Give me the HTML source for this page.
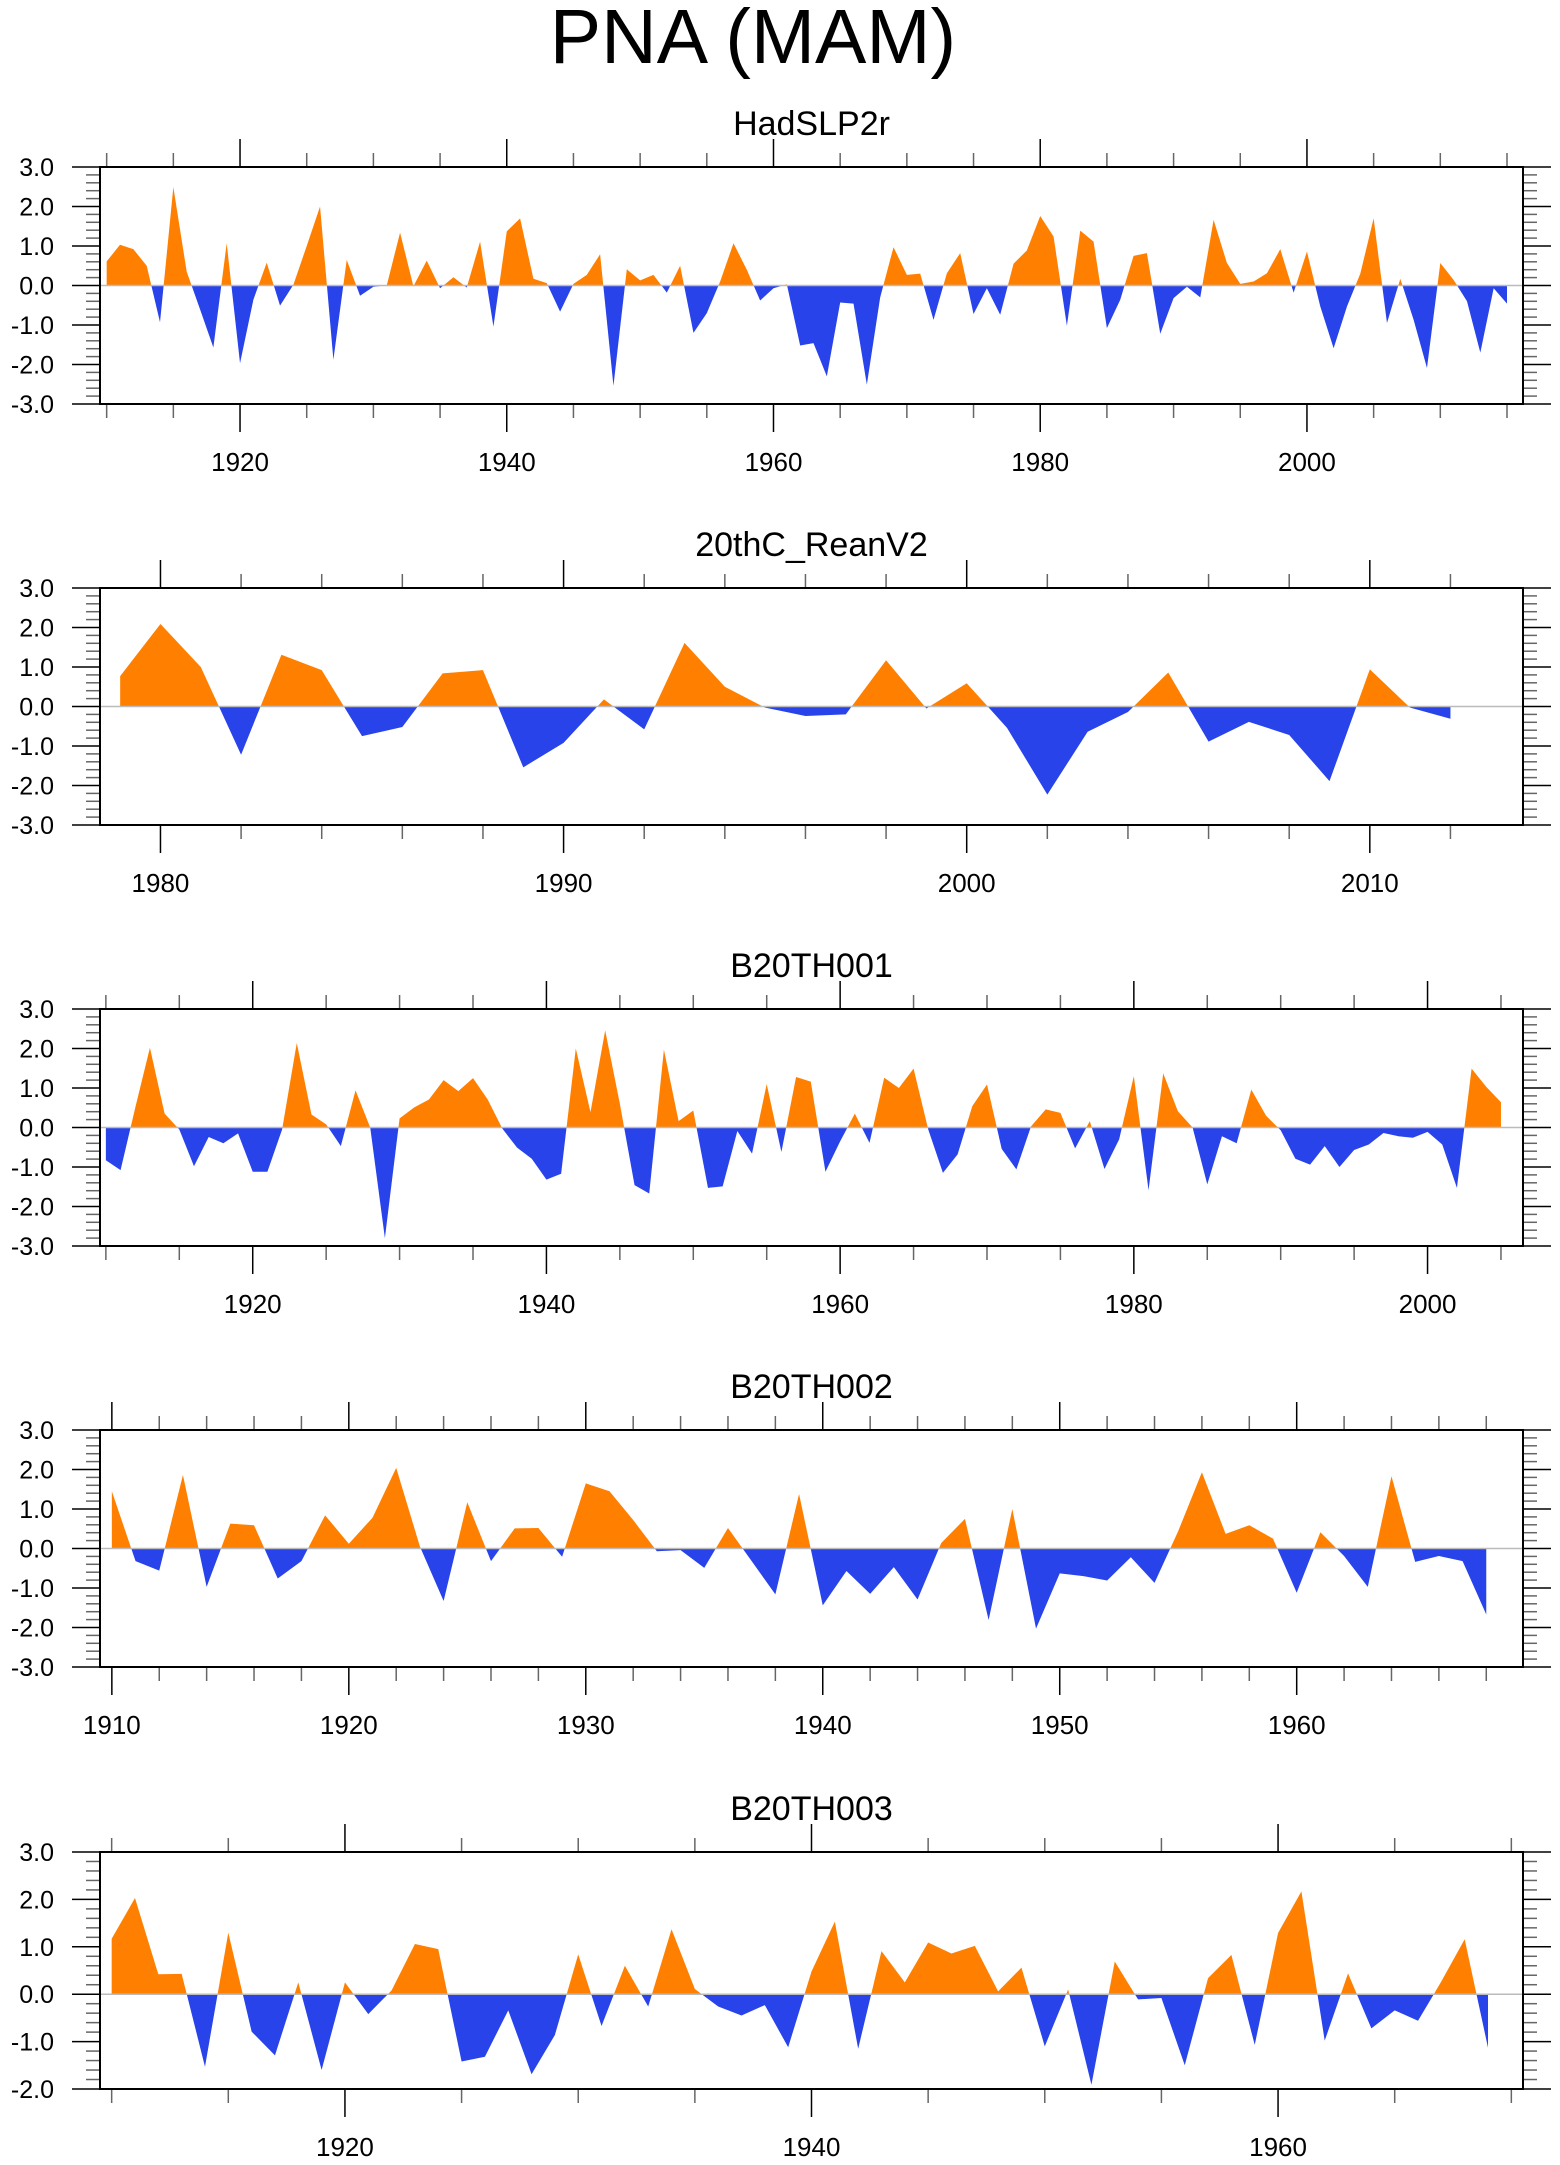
<!DOCTYPE html>
<html><head><meta charset="utf-8">
<style>
html,body{margin:0;padding:0;background:#fff;}
svg{display:block;font-family:"Liberation Sans",Arial,sans-serif;}
</style></head>
<body>
<svg id="chart" width="1560" height="2165" viewBox="0 0 1560 2165" xmlns="http://www.w3.org/2000/svg">
<text x="753" y="63" font-size="77" text-anchor="middle">PNA (MAM)</text>
</svg>
<script>
// ---- Data ----
const hadYears0 = 1910;
const hadValues = [0.61,1.03,0.92,0.5,-0.93,2.49,0.35,-0.6,-1.57,1.07,-1.97,-0.36,0.58,-0.51,0.02,1.0,2.0,-1.88,0.65,-0.26,-0.03,0.0,1.34,-0.02,0.63,-0.07,0.21,-0.05,1.11,-1.04,1.37,1.7,0.17,0.06,-0.66,0.04,0.27,0.79,-2.54,0.41,0.13,0.27,-0.18,0.5,-1.2,-0.7,0.1,1.07,0.4,-0.38,-0.07,0.03,-1.52,-1.46,-2.3,-0.43,-0.46,-2.51,-0.3,0.97,0.27,0.3,-0.87,0.31,0.82,-0.72,-0.07,-0.74,0.55,0.89,1.76,1.24,-1.02,1.39,1.11,-1.08,-0.36,0.75,0.82,-1.22,-0.32,-0.03,-0.3,1.66,0.57,0.04,0.1,0.31,0.92,-0.18,0.86,-0.53,-1.59,-0.53,0.3,1.7,-0.95,0.17,-0.87,-2.09,0.57,0.14,-0.4,-1.7,-0.07,-0.46];
const reanYears0 = 1979;
const reanValues = [0.77,2.09,1.0,-1.22,1.31,0.92,-0.75,-0.52,0.84,0.92,-1.54,-0.92,0.18,-0.58,1.61,0.5,-0.03,-0.24,-0.2,1.17,-0.05,0.59,-0.54,-2.23,-0.64,-0.14,0.86,-0.89,-0.39,-0.72,-1.89,0.94,-0.03,-0.31];
const b001Years0 = 1910;
const b001Values = [-0.83,-1.08,0.5,2.02,0.35,-0.05,-0.98,-0.24,-0.4,-0.15,-1.12,-1.12,-0.05,2.14,0.33,0.08,-0.47,0.94,0.0,-2.8,0.23,0.51,0.71,1.2,0.92,1.25,0.71,-0.03,-0.51,-0.79,-1.32,-1.17,2.0,0.39,2.46,0.6,-1.46,-1.67,1.97,0.16,0.43,-1.53,-1.49,-0.09,-0.66,1.1,-0.62,1.28,1.16,-1.12,-0.35,0.35,-0.39,1.26,1.0,1.49,-0.05,-1.15,-0.68,0.54,1.09,-0.54,-1.06,0.03,0.46,0.37,-0.53,0.16,-1.05,-0.3,1.3,-1.59,1.37,0.41,0.0,-1.44,-0.22,-0.4,0.96,0.3,-0.07,-0.79,-0.94,-0.47,-1.0,-0.57,-0.43,-0.14,-0.22,-0.26,-0.11,-0.43,-1.53,1.49,1.03,0.64];
const b002Years0 = 1910;
const b002Values = [1.45,-0.32,-0.56,1.86,-0.97,0.63,0.59,-0.76,-0.32,0.84,0.12,0.78,2.04,0.05,-1.33,1.17,-0.32,0.51,0.52,-0.21,1.65,1.45,0.72,-0.07,-0.04,-0.49,0.52,-0.32,-1.16,1.38,-1.44,-0.57,-1.15,-0.47,-1.29,0.14,0.75,-1.81,1.0,-2.03,-0.63,-0.7,-0.81,-0.22,-0.87,0.44,1.93,0.37,0.59,0.25,-1.12,0.41,-0.19,-0.97,1.83,-0.34,-0.19,-0.32,-1.67];
const b003Years0 = 1910;
const b003Values = [1.17,2.03,0.42,0.43,-1.53,1.3,-0.79,-1.29,0.25,-1.6,0.25,-0.42,0.08,1.06,0.95,-1.42,-1.32,-0.34,-1.69,-0.86,0.84,-0.67,0.6,-0.26,1.37,0.11,-0.26,-0.45,-0.23,-1.12,0.48,1.53,-1.15,0.91,0.25,1.09,0.86,1.02,0.06,0.56,-1.1,0.1,-1.91,0.69,-0.11,-0.08,-1.5,0.34,0.83,-1.07,1.29,2.17,-0.98,0.44,-0.72,-0.34,-0.56,0.27,1.16,-1.13];
const panelTitles = ["HadSLP2r","20thC_ReanV2","B20TH001","B20TH002","B20TH003"];
const yTickLabels = ["3.0","2.0","1.0","0.0","-1.0","-2.0","-3.0"];

const NS = "http://www.w3.org/2000/svg";
const svg = document.getElementById('chart');
function mk(tag, attrs, parent){
  const e = document.createElementNS(NS, tag);
  for (const k in attrs) e.setAttribute(k, attrs[k]);
  (parent||svg).appendChild(e);
  return e;
}
const L = 100, R = 1523, H = 237;
const panels = [
  {top:167, x0:1909.5, x1:2016.2, ymin:-3, ymax:3, y0:hadYears0, vals:hadValues, major:20, minor:5, name:'hadslp2r'},
  {top:588, x0:1978.5, x1:2013.8, ymin:-3, ymax:3, y0:reanYears0, vals:reanValues, major:10, minor:2, name:'20thc-reanv2'},
  {top:1009, x0:1909.6, x1:2006.5, ymin:-3, ymax:3, y0:b001Years0, vals:b001Values, major:20, minor:5, name:'b20th001'},
  {top:1430, x0:1909.5, x1:1969.55, ymin:-3, ymax:3, y0:b002Years0, vals:b002Values, major:10, minor:2, name:'b20th002'},
  {top:1852, x0:1909.5, x1:1970.5, ymin:-2, ymax:3, y0:b003Years0, vals:b003Values, major:20, minor:5, name:'b20th003'}
];

panels.forEach((p, pi) => {
  const g = mk('g', {});
  
  
  const B = p.top + H;
  const xs = yr => L + (yr - p.x0) / (p.x1 - p.x0) * (R - L);
  const ys = v => p.top + (p.ymax - v) / (p.ymax - p.ymin) * H;
  const t = mk('text', {x:811.5, y:p.top - 32, 'font-size':34, 'text-anchor':'middle'}, g);
  t.textContent = panelTitles[pi];
  
  
  const pts = [];
  p.vals.forEach((v, i) => {
    const yr = p.y0 + i;
    if (i > 0) {
      const pv = p.vals[i-1];
      if ((pv > 0 && v < 0) || (pv < 0 && v > 0)) {
        const f = pv / (pv - v);
        pts.push([yr - 1 + f, 0]);
      }
    }
    pts.push([yr, v]);
  });
  const first = pts[0][0], last = pts[pts.length-1][0];
  function poly(fn){
    let d = 'M' + xs(first).toFixed(2) + ',' + ys(0).toFixed(2);
    pts.forEach(q => { d += 'L' + xs(q[0]).toFixed(2) + ',' + ys(fn(q[1])).toFixed(2); });
    d += 'L' + xs(last).toFixed(2) + ',' + ys(0).toFixed(2) + 'Z';
    return d;
  }
  const pos = mk('path', {d:poly(v => Math.max(0, v)), fill:'#FF8000'}, g);
  
  
  const neg = mk('path', {d:poly(v => Math.min(0, v)), fill:'#2843EA'}, g);
  
  
  const zl = mk('line', {x1:L, x2:R, y1:ys(0), y2:ys(0), stroke:'#bbb', 'stroke-width':1.5}, g);
  
  
  for (let k = p.ymin * 5; k <= p.ymax * 5; k++) {
    const v = k / 5, y = ys(v), isMaj = (k % 5 === 0);
    const len = isMaj ? 28 : 14;
    mk('line', {x1:L - len, x2:L, y1:y, y2:y, stroke:isMaj?'#000':'#666', 'stroke-width':1.5}, g);
    mk('line', {x1:R, x2:R + len, y1:y, y2:y, stroke:isMaj?'#000':'#666', 'stroke-width':1.5}, g);
    if (isMaj) {
      const lab = mk('text', {x:54, y:y + 9, 'font-size':25, 'text-anchor':'end'}, g);
      lab.textContent = yTickLabels[3 - v];
      
      
    }
  }
  const start = Math.ceil(p.x0 / p.minor) * p.minor;
  for (let yr = start; yr <= p.x1; yr += p.minor) {
    const x = xs(yr), isMaj = (yr % p.major === 0);
    const len = isMaj ? 28 : 14;
    mk('line', {x1:x, x2:x, y1:p.top - len, y2:p.top, stroke:isMaj?'#000':'#666', 'stroke-width':1.5}, g);
    mk('line', {x1:x, x2:x, y1:B, y2:B + len, stroke:isMaj?'#000':'#666', 'stroke-width':1.5}, g);
    if (isMaj) {
      const lab = mk('text', {x:x, y:B + 67, 'font-size':26, 'text-anchor':'middle'}, g);
      lab.textContent = String(yr);
      
      
    }
  }
  const fr = mk('rect', {x:L, y:p.top, width:R - L, height:H, fill:'none', stroke:'#000', 'stroke-width':2}, g);
  
  
});
</script>
</body></html>
